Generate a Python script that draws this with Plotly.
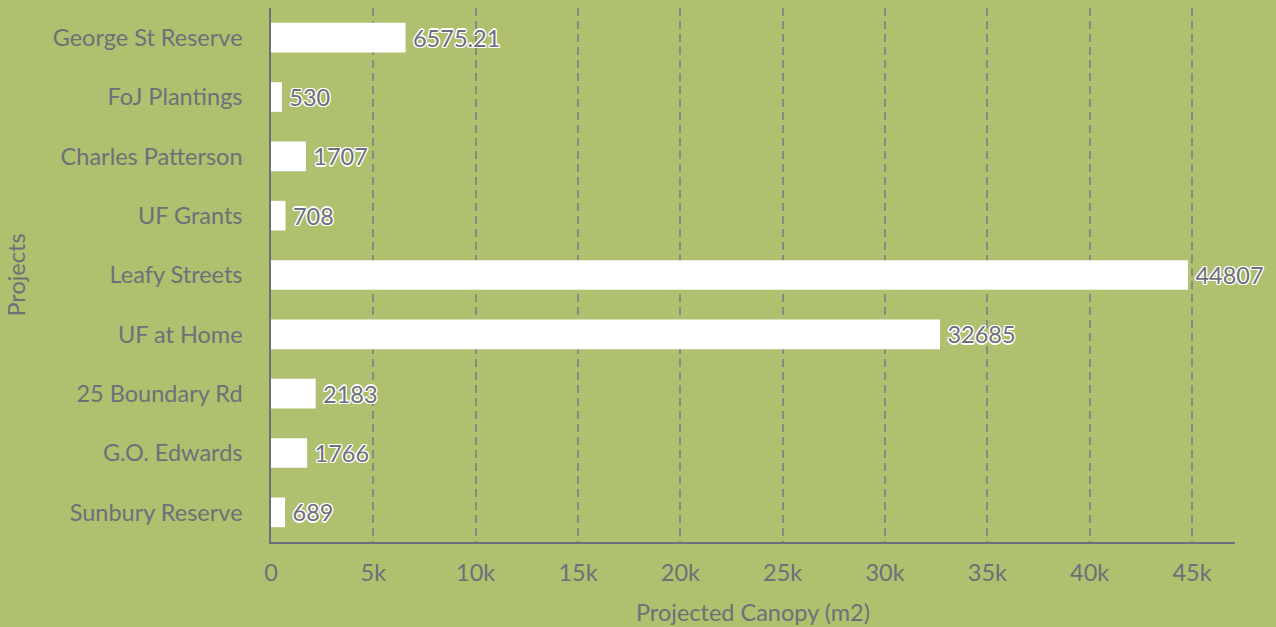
import plotly.graph_objects as go

projects = ["George St Reserve", "FoJ Plantings", "Charles Patterson", "UF Grants",
            "Leafy Streets", "UF at Home", "25 Boundary Rd", "G.O. Edwards", "Sunbury Reserve"]
canopy = [6575.21, 530, 1707, 708, 44807, 32685, 2183, 1766, 689]
labels = ["6575.21", "530", "1707", "708", "44807", "32685", "2183", "1766", "689"]
tick_vals = [0, 5000, 10000, 15000, 20000, 25000, 30000, 35000, 40000, 45000]
tick_text = ["0", "5k", "10k", "15k", "20k", "25k", "30k", "35k", "40k", "45k"]

BG = "#afc06f"
GRAY = "#6e7079"
FONT = "Lato"
FS = 23.5

fig = go.Figure(go.Bar(
    y=projects, x=canopy, orientation="h",
    marker=dict(color="white", line=dict(width=0)),
    text=labels, texttemplate="\u2009\u200a%{text}", textposition="outside", cliponaxis=False,
    textfont=dict(family=FONT, size=FS, color=GRAY,
                  shadow="-1px -1px 0 #fff, 1px -1px 0 #fff, -1px 1px 0 #fff, 1px 1px 0 #fff, 0 1.3px 0 #fff, 0 -1.3px 0 #fff, 1.3px 0 0 #fff, -1.3px 0 0 #fff"),
))

fig.update_layout(
    width=1276, height=627,
    paper_bgcolor=BG, plot_bgcolor=BG,
    margin=dict(l=271, r=41, t=8, b=85),
    bargap=0.5,
    showlegend=False,
    font=dict(family=FONT, color=GRAY, size=FS),
    xaxis=dict(
        range=[0, 47100], tickvals=tick_vals, ticktext=tick_text,
        showgrid=True, gridcolor="#878c83", griddash="8px,5px", gridwidth=1.5,
        showline=True, linecolor=GRAY, linewidth=1.5,
        zeroline=False, ticks="", ticklabelstandoff=9, automargin=False,
        tickfont=dict(family=FONT, size=FS, color=GRAY),
        title=dict(text="Projected Canopy (m2)", standoff=20,
                   font=dict(family=FONT, size=FS, color=GRAY)),
    ),
    yaxis=dict(
        categoryorder="array", categoryarray=projects, autorange="reversed",
        showgrid=False, showline=True, linecolor=GRAY, linewidth=1.5,
        zeroline=False, ticks="", ticklabelstandoff=22, automargin=False,
        tickfont=dict(family=FONT, size=FS, color=GRAY),
        title=dict(text="Projects", standoff=20,
                   font=dict(family=FONT, size=FS, color=GRAY)),
    ),
)

fig.write_html("out.html", config={"displayModeBar": False},
               post_script="document.body.style.margin='0';document.body.style.overflow='hidden';")
